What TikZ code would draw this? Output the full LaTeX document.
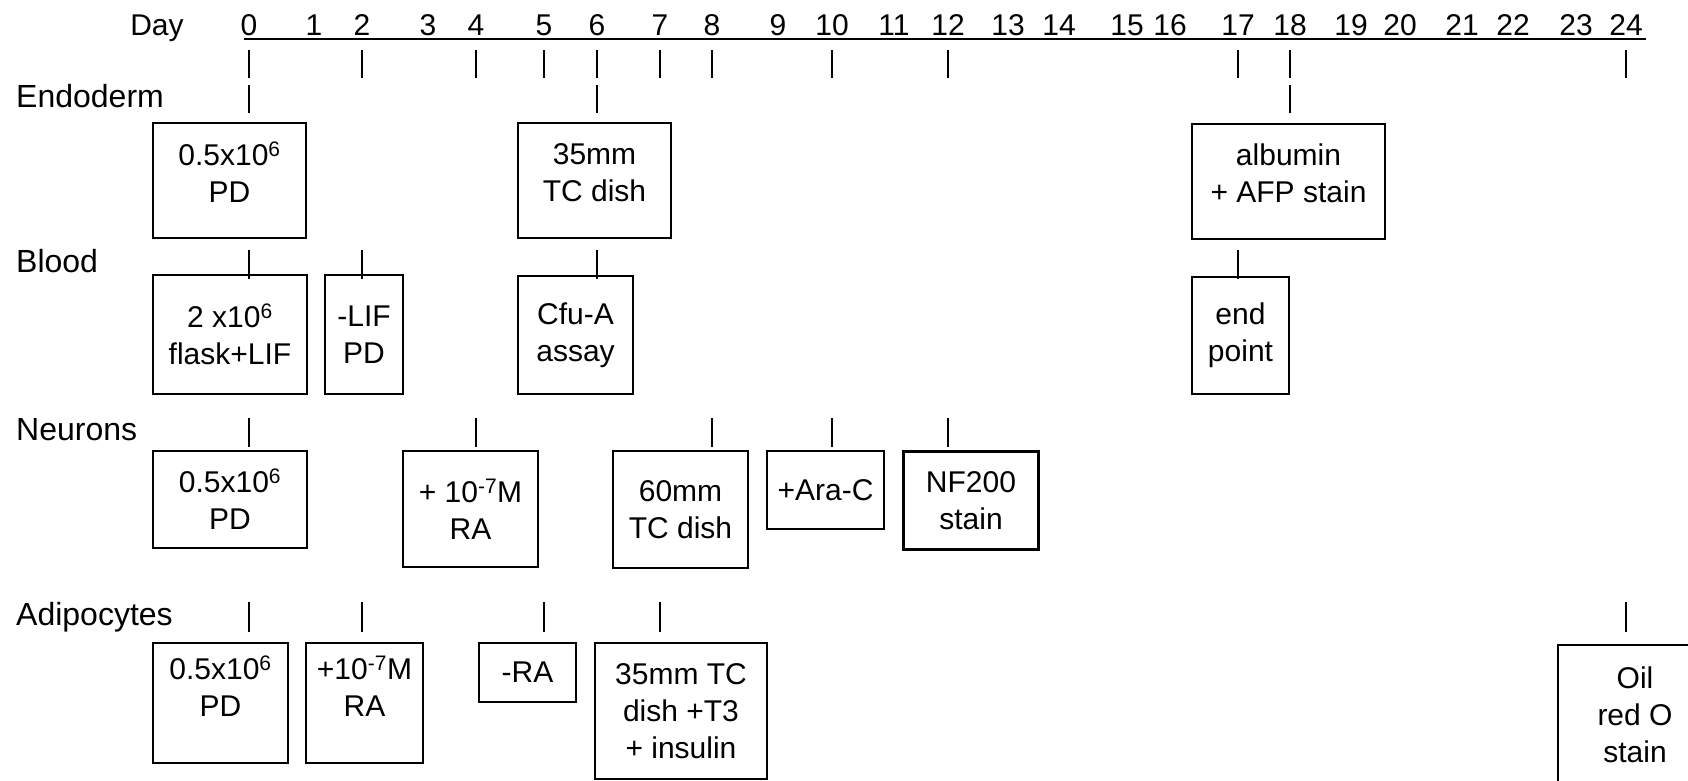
\documentclass[tikz,border=0pt]{standalone}
\usepackage{fontspec}
\setmainfont{Liberation Sans}
\usetikzlibrary{positioning}

\begin{document}
\begin{tikzpicture}[
    x=1pt, y=-1pt,
    every node/.style={font=\fontsize{30}{37}\selectfont, inner sep=0pt},
    protocol/.style={rectangle, draw, line width=2pt, align=center, anchor=north west},
    rowname/.style={anchor=base west, font=\fontsize{32}{37}\selectfont},
    tick/.style={line width=2pt}
]
    \useasboundingbox (0,0) rectangle (1688,780);
    \clip (0,0) rectangle (1688,780);

    % time axis
    \foreach \x [count=\i from 0] in {249,314,362,428,476,544,597,660,712,778,832,894,948,1008,1059,1127,1170,1238,1290,1351,1400,1462,1513,1576,1626} {
        \coordinate (d\i) at (\x,39);
        \node[anchor=base] (n\i) at (\x,35) {\i};
    }
    \node[anchor=base] (day) at (157,35) {Day};
    \draw[line width=2.5pt] ([xshift=-5pt]d0) -- ([xshift=20pt]d24);
    \foreach \d in {0,2,4,5,6,7,8,10,12,17,18,24}
        \draw[tick] (d\d) ++(0,11) -- ++(0,28);

    % rows
    \node[rowname] (endo) at (16,107) {Endoderm};
    \node[rowname] (blood) at (16,272) {Blood};
    \node[rowname] (neur) at (16,440) {Neurons};
    \node[rowname] (adipo) at (16,625) {Adipocytes};

    \foreach \d in {0,6,18}
        \draw[tick] (d\d |- endo.base) ++(0,-22) -- ++(0,28);
    \foreach \d in {0,2,6,17}
        \draw[tick] (d\d |- blood.base) ++(0,-22) -- ++(0,29);
    \foreach \d in {0,4,8,10,12}
        \draw[tick] (d\d |- neur.base) ++(0,-22) -- ++(0,29);
    \foreach \d in {0,2,5,7,24}
        \draw[tick] (d\d |- adipo.base) ++(0,-23) -- ++(0,30);

    % Endoderm
    \node[protocol, text depth=16pt, minimum width=153, minimum height=115] (endPD) at (152,122) {0.5x10\textsuperscript{6}\\PD};
    \node[protocol, text depth=16pt, minimum width=153, minimum height=115] (endDish) at (517,122) {35mm\\TC dish};
    \node[protocol, text depth=16pt, minimum width=193, minimum height=115] (endStain) at (1191,123) {albumin\\+ AFP stain};

    % Blood
    \node[protocol, minimum width=154, minimum height=119] (bloodFlask) at (152,274) {2 x10\textsuperscript{6}\\flask+LIF};
    \node[protocol, minimum width=78, minimum height=119] (bloodLif) at (324,274) {-LIF\\PD};
    \node[protocol, minimum width=115, minimum height=118] (bloodCfu) at (517,275) {Cfu-A\\assay};
    \node[protocol, minimum width=97, minimum height=117] (bloodEnd) at (1191,276) {end\\point};

    % Neurons
    \node[protocol, minimum width=154, minimum height=97] (neurPD) at (152,450) {0.5x10\textsuperscript{6}\\PD};
    \node[protocol, minimum width=135, minimum height=116] (neurRA) at (402,450) {+ 10\textsuperscript{-7}M\\RA};
    \node[protocol, minimum width=135, minimum height=117] (neurDish) at (612,450) {60mm\\TC dish};
    \node[protocol, minimum width=117, minimum height=78] (neurAra) at (766,450) {+Ara-C};
    \node[protocol, line width=3pt, minimum width=135, minimum height=98] (neurStain) at (902,450) {NF200\\stain};

    % Adipocytes
    \node[protocol, text depth=34pt, minimum width=135, minimum height=120] (adipPD) at (152,642) {0.5x10\textsuperscript{6}\\PD};
    \node[protocol, text depth=34pt, minimum width=117, minimum height=120] (adipRA) at (305,642) {+10\textsuperscript{-7}M\\RA};
    \node[protocol, minimum width=97, minimum height=59] (adipNoRA) at (478,642) {-RA};
    \node[protocol, minimum width=172, minimum height=136] (adipDish) at (594,642) {35mm TC\\dish +T3\\+ insulin};
    \node[protocol, minimum width=154, minimum height=140] (adipStain) at (1557,644) {Oil\\red O\\stain};
\end{tikzpicture}
\end{document}
